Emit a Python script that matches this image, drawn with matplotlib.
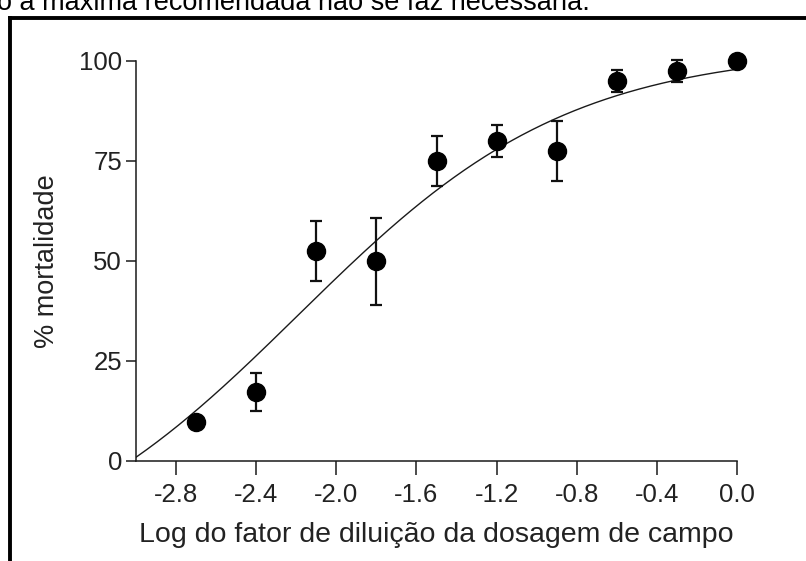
import numpy as np
import matplotlib
matplotlib.use("Agg")
import matplotlib.pyplot as plt
from matplotlib.lines import Line2D

plt.rcParams['font.family'] = ['Liberation Sans', 'DejaVu Sans']

# ---- data ----
log_dilution = [-2.7, -2.4, -2.1, -1.8, -1.5, -1.2, -0.9, -0.6, -0.3, 0.0]
mortality = [9.8, 17.2, 52.4, 49.9, 75.0, 80.0, 77.5, 95.0, 97.5, 100.0]
mortality_err = [1.0, 4.8, 7.5, 10.8, 6.3, 4.0, 7.5, 2.7, 2.7, 1.0]

# fitted sigmoidal dose-response (4PL) parameters, estimated from the drawn curve
fit_bottom = -30.0
fit_top = 103.0
fit_logec50 = -2.19
fit_hill = 0.64

x_ticks = [-2.8, -2.4, -2.0, -1.6, -1.2, -0.8, -0.4, 0.0]
x_tick_labels = ['-2.8', '-2.4', '-2.0', '-1.6', '-1.2', '-0.8', '-0.4', '0.0']
y_ticks = [0, 25, 50, 75, 100]
y_tick_labels = ['0', '25', '50', '75', '100']

x_label = 'Log do fator de diluição da dosagem de campo'
y_label = '% mortalidade'
top_text = 'o a máxima recomendada não se faz necessária.'

W, H = 806, 561
fig = plt.figure(figsize=(W / 100, H / 100), dpi=100)

# axes placement in pixels
left, right, top, bottom = 136, 737, 61, 461
ax = fig.add_axes([left / W, 1 - bottom / H, (right - left) / W, (bottom - top) / H])

xc = np.linspace(-3.0, 0.0, 400)
yc = fit_bottom + (fit_top - fit_bottom) / (1 + 10 ** ((fit_logec50 - xc) * fit_hill))
ax.plot(xc, yc, color='#1a1a1a', lw=1.0, zorder=2)

ax.errorbar(log_dilution, mortality, yerr=mortality_err, fmt='none', ecolor='#111111',
            elinewidth=1.6, capsize=4.5, capthick=1.6, zorder=3, clip_on=False)
ax.plot(log_dilution, mortality, 'o', color='black', ms=13, zorder=4, clip_on=False)

ax.set_xlim(-3.0, 0.0)
ax.set_ylim(0, 100)
ax.set_xticks(x_ticks)
ax.set_xticklabels(x_tick_labels)
ax.set_yticks(y_ticks)
ax.set_yticklabels(y_tick_labels)

for s in ['top', 'right']:
    ax.spines[s].set_visible(False)
for s in ['left', 'bottom']:
    ax.spines[s].set_linewidth(1.1)
    ax.spines[s].set_color('#1a1a1a')

ax.tick_params(axis='x', direction='out', length=10, width=1.1, color='#1a1a1a',
               labelsize=18.5, labelcolor='#222222', pad=6)
ax.tick_params(axis='y', direction='out', length=7, width=1.1, color='#1a1a1a',
               labelsize=18.5, labelcolor='#222222', pad=3)

ax.set_xlabel(x_label, fontsize=20.5, color='#222222', labelpad=11)
ax.set_ylabel(y_label, fontsize=19.5, color='#222222', labelpad=14)

# frame lines of the surrounding page
fig.add_artist(Line2D([10 / W, 1.0], [1 - 18 / H, 1 - 18 / H], transform=fig.transFigure,
                      color='black', lw=2.8))
fig.add_artist(Line2D([10 / W, 10 / W], [1 - 18 / H, 0.0], transform=fig.transFigure,
                      color='black', lw=2.8))
fig.text(-3 / W, 1 - 10 / H, top_text, fontsize=19.5, color='black', ha='left', va='baseline')

fig.savefig('out.png', dpi=100)
